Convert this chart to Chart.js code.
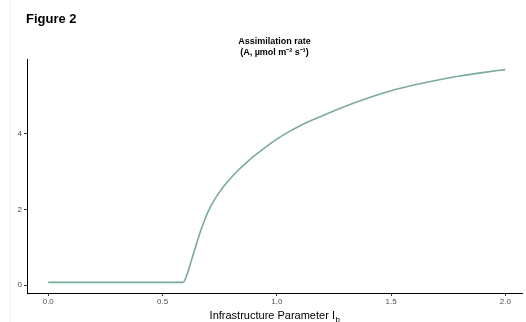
<!DOCTYPE html>
<html>
<head>
<meta charset="utf-8">
<script src="https://cdn.jsdelivr.net/npm/chart.js@4"></script>
<style>
  html, body { margin: 0; padding: 0; background: #fff; }
  #wrap { position: relative; width: 526px; height: 322px; }
  #edge { position: absolute; left: 10px; top: 0; width: 1px; height: 322px; background: #f3f3f3; }
</style>
</head>
<body>
<div id="wrap">
  <div id="edge"></div>
  <canvas id="chart" width="526" height="322"></canvas>
</div>
<script>
// ===== Data =====
const ibValues = [0, 0.59, 0.60, 0.61, 0.62, 0.63, 0.64, 0.65, 0.66, 0.67, 0.68, 0.70, 0.72, 0.74, 0.76, 0.78, 0.80, 0.83, 0.86, 0.90, 0.95, 1.00, 1.05, 1.10, 1.20, 1.30, 1.40, 1.50, 1.60, 1.70, 1.80, 1.90, 2.00];
const assimilation = [0.07, 0.07, 0.16, 0.33, 0.52, 0.72, 0.92, 1.12, 1.31, 1.49, 1.65, 1.95, 2.18, 2.38, 2.55, 2.70, 2.84, 3.03, 3.20, 3.41, 3.645, 3.86, 4.045, 4.21, 4.48, 4.73, 4.95, 5.14, 5.29, 5.42, 5.53, 5.62, 5.70];
const xTicks = [0, 0.5, 1.0, 1.5, 2.0];
const yTicks = [0, 2, 4];

const FONT = '"Liberation Sans", Arial, Helvetica, sans-serif';
const LINE_COLOR = 'rgb(121,172,152)';

// ===== Text drawn on canvas (titles, subscript axis label) =====
const textPlugin = {
  id: 'texts',
  afterDraw(chart) {
    const ctx = chart.ctx;
    const area = chart.chartArea;
    const cx = (area.left + area.right) / 2;
    ctx.save();
    ctx.fillStyle = '#000';

    // figure label
    ctx.textAlign = 'left';
    ctx.textBaseline = 'alphabetic';
    ctx.font = 'bold 13px ' + FONT;
    ctx.fillText('Figure 2', 26, 23);

    // panel title
    ctx.textAlign = 'center';
    ctx.font = 'bold 9px ' + FONT;
    ctx.fillText('Assimilation rate', cx, 44);
    ctx.fillText('(A, \u00b5mol m\u207b\u00b2 s\u207b\u00b9)', cx, 55);

    // x axis title with subscript
    ctx.font = '11px ' + FONT;
    const main = 'Infrastructure Parameter I';
    const wMain = ctx.measureText(main).width;
    ctx.font = '8px ' + FONT;
    const wSub = ctx.measureText('b').width;
    const x0 = cx - (wMain + wSub) / 2;
    ctx.textAlign = 'left';
    ctx.font = '11px ' + FONT;
    ctx.fillText(main, x0, 319);
    ctx.font = '8px ' + FONT;
    ctx.fillText('b', x0 + wMain + 0.5, 322);
    ctx.restore();
  }
};

const ctx = document.getElementById('chart').getContext('2d');
new Chart(ctx, {
  type: 'line',
  data: {
    datasets: [{
      data: ibValues.map((x, i) => ({ x, y: assimilation[i] })),
      borderColor: LINE_COLOR,
      borderWidth: 1.6,
      pointRadius: 0,
      cubicInterpolationMode: 'monotone',
      fill: false
    }]
  },
  options: {
    responsive: false,
    animation: false,
    layout: { padding: { left: 0, right: 4, top: 59, bottom: 0 } },
    plugins: { legend: { display: false }, tooltip: { enabled: false }, title: { display: false } },
    scales: {
      x: {
        type: 'linear',
        min: -0.093, max: 2.073,
        afterBuildTicks: s => { s.ticks = xTicks.map(v => ({ value: v })); },
        afterFit: s => { s.height = 29; },
        grid: { display: true, drawOnChartArea: false, drawTicks: true, tickLength: 3, color: '#333', lineWidth: 1 },
        border: { display: true, color: '#000', width: 1 },
        ticks: {
          padding: 1,
          color: '#4d4d4d',
          font: { family: FONT, size: 8 },
          maxRotation: 0,
          callback: v => Number(v).toFixed(1)
        }
      },
      y: {
        min: -0.21, max: 5.98,
        afterBuildTicks: s => { s.ticks = yTicks.map(v => ({ value: v })); },
        afterFit: s => { s.width = 27; },
        grid: { display: true, drawOnChartArea: false, drawTicks: true, tickLength: 3, color: '#333', lineWidth: 1 },
        border: { display: true, color: '#000', width: 1 },
        ticks: {
          padding: 2,
          color: '#4d4d4d',
          font: { family: FONT, size: 8 },
          callback: v => String(v)
        }
      }
    }
  },
  plugins: [textPlugin]
});
</script>
</body>
</html>
